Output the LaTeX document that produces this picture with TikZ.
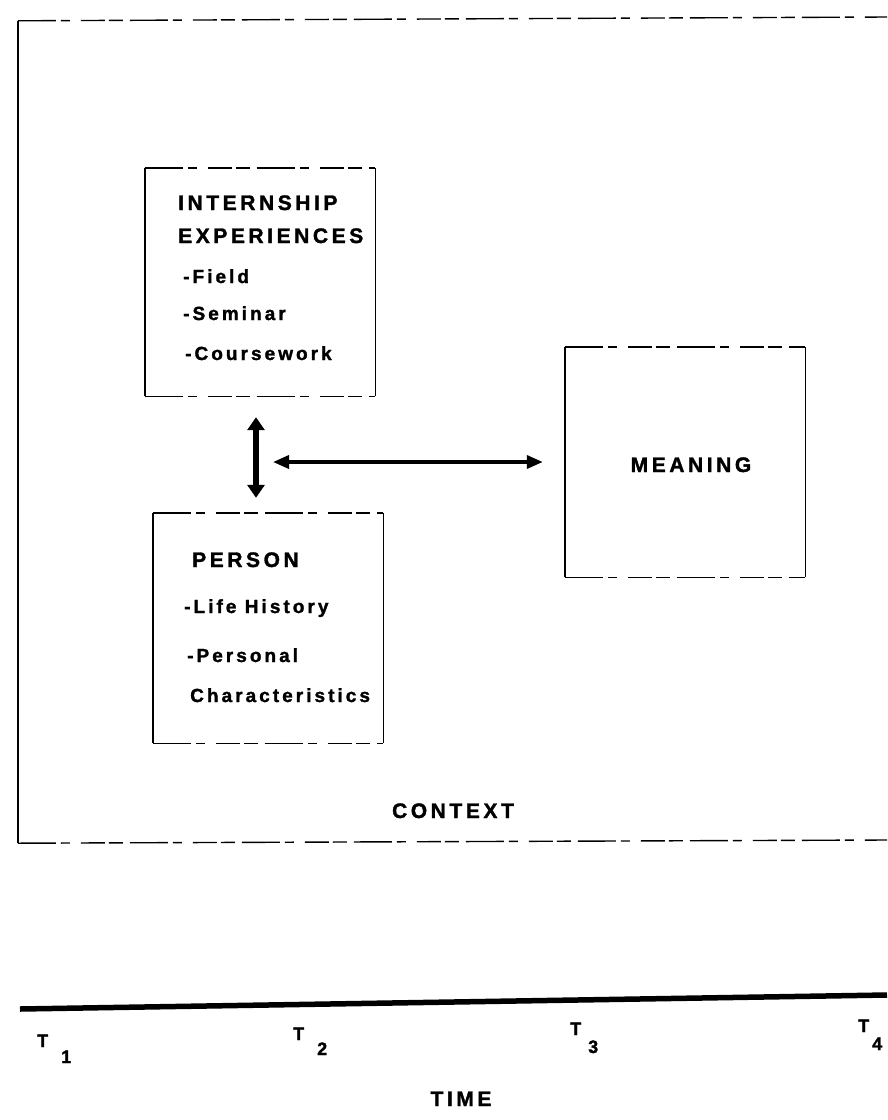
\documentclass[tikz,border=0pt]{standalone}
\usepackage{fontspec}
\setmainfont{Liberation Sans}
\usetikzlibrary{arrows.meta,positioning}
\tikzset{font={\fontsize{19pt}{23pt}\selectfont\bfseries}}
\tikzset{
  head/.style={font={\fontsize{21pt}{25pt}\selectfont\bfseries\addfontfeature{LetterSpace=17,FakeBold=1.5}}, inner sep=0pt},
  wide/.style={font={\fontsize{19pt}{23pt}\selectfont\bfseries\addfontfeature{LetterSpace=16,FakeBold=1.5}}, inner sep=0pt},
  tick/.style={font={\fontsize{18pt}{22pt}\selectfont\bfseries\addfontfeature{FakeBold=1.5}}, inner sep=0pt, anchor=base west},
  box/.style={rectangle, inner sep=0pt},
  rim/.style={line width=1.4pt, dash pattern=on 38pt off 5pt on 9pt off 11pt on 24pt off 4pt on 14pt off 7pt},
  side/.style={line width=1.4pt},
  fat/.style={line width=6pt, {Triangle[width=17pt,length=13pt]}-{Triangle[width=17pt,length=13pt]}},
  slim/.style={line width=3.5pt, {Triangle[width=13pt,length=16pt]}-{Triangle[width=13pt,length=16pt]}},
  axis/.style={line width=5.5pt}
}

\begin{document}
\begin{tikzpicture}[x=1pt,y=-1pt]
  \useasboundingbox (0,0) rectangle (887,1120);
  \fill[white] (0,0) rectangle (887,1120);

  % Define nodes
  \node[box, minimum width=882pt, minimum height=822pt] (context) at (459,432) {};
  \node[box, minimum width=230pt, minimum height=228pt] (intern) at (260,282) {};
  \node[box, minimum width=230pt, minimum height=230pt] (person) at (268,628) {};
  \node[box, minimum width=240pt, minimum height=230pt] (meaning) at (685,462) {};
  \coordinate (hub) at (256,462);

  \node[head, anchor=base west] (intern1) at (178,210) {INTERNSHIP};
  \node[head, anchor=base west] (intern2) at ([yshift=-33pt]intern1.base west) {EXPERIENCES};
  \node[wide, anchor=base west] (intern3) at ([xshift=5pt,yshift=-40pt]intern2.base west) {-Field};
  \node[wide, anchor=base west] (intern4) at ([yshift=-37pt]intern3.base west) {-Seminar};
  \node[wide, anchor=base west] (intern5) at ([xshift=2pt,yshift=-40pt]intern4.base west) {-Coursework};

  \node[head, anchor=base west] (person1) at (192,567) {PERSON};
  \node[wide, anchor=base west] (person2) at ([xshift=-8pt,yshift=-46pt]person1.base west) {-Life History};
  \node[wide, anchor=base west] (person3) at ([xshift=3pt,yshift=-49pt]person2.base west) {-Personal};
  \node[wide, anchor=base west] (person4) at ([xshift=3pt,yshift=-40pt]person3.base west) {Characteristics};

  \node[head, anchor=base] (meaninglabel) at (691,472) {MEANING};
  \node[head, anchor=base] (contextlabel) at (453,818) {CONTEXT};

  % Time line
  \coordinate (start) at (20,1009);
  \coordinate (stop) at (887,995);
  \node[tick] (t1) at (37,1047) {T\hspace{13pt}\raisebox{-16pt}{1}};
  \node[tick] (t2) at (293,1040) {T\hspace{13pt}\raisebox{-15pt}{2}};
  \node[tick] (t3) at (570,1035) {T\hspace{7pt}\raisebox{-18pt}{3}};
  \node[tick] (t4) at (858,1032) {T\hspace{3pt}\raisebox{-18pt}{4}};
  \node[head, anchor=base] (time) at (461,1106) {TIME};

  % Frames
  \draw[rim] (context.north west) -- (887,17) (context.south west) -- (887,840);
  \draw[side] (context.north west) -- (context.south west);
  \draw[rim] (intern.north west) -- (intern.north east) (intern.south west) -- (intern.south east);
  \draw[side] (intern.north west) -- (intern.south west) (intern.north east) -- (intern.south east);
  \draw[rim] (person.north west) -- (person.north east) (person.south west) -- (person.south east);
  \draw[side] (person.north west) -- (person.south west) (person.north east) -- (person.south east);
  \draw[rim] (meaning.north west) -- (meaning.north east) (meaning.south west) -- (meaning.south east);
  \draw[side] (meaning.north west) -- (meaning.south west) (meaning.north east) -- (meaning.south east);

  % Connect the nodes
  \draw[fat, shorten <=21pt, shorten >=15pt] (hub |- intern.south) -- (hub |- person.north);
  \draw[slim, shorten <=17pt, shorten >=22pt] (hub) -- (meaning.west);
  \draw[axis] (start) -- (stop);
\end{tikzpicture}
\end{document}
